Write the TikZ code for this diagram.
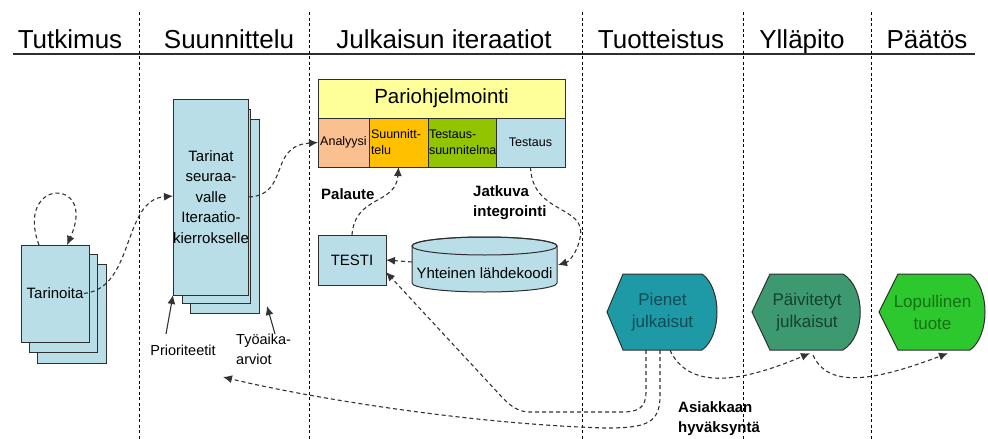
\documentclass[tikz,border=0pt]{standalone}
\usepackage{fontspec}
\setmainfont{Liberation Sans}
\usetikzlibrary{arrows.meta}
\newcommand\fsz[2]{\fontsize{#1pt}{#2pt}\selectfont}
\definecolor{cardblue}{HTML}{B9DEE8}
\definecolor{linec}{HTML}{2E2E2E}
\definecolor{flowc}{HTML}{333333}
\definecolor{pairyellow}{HTML}{FFFF99}
\definecolor{peach}{HTML}{FAC08F}
\definecolor{gold}{HTML}{FFC000}
\definecolor{olive}{HTML}{92C400}
\definecolor{tealrel}{HTML}{1E9AA6}
\definecolor{tealtxt}{HTML}{0E4B55}
\definecolor{seagreen}{HTML}{3D9970}
\definecolor{seatxt}{HTML}{16422A}
\definecolor{brightgreen}{HTML}{2DC82D}
\definecolor{brighttxt}{HTML}{137013}
\begin{document}
\begin{tikzpicture}[x=1pt,y=-1pt,
  title/.style={font=\fsz{26}{30}, inner sep=0pt, anchor=base},
  lane/.style={draw=black, line width=0.8pt, dash pattern=on 3pt off 2.5pt},
  card/.style={draw=linec, fill=cardblue, line width=1pt, inner sep=0pt, outer sep=0pt, anchor=north west},
  cell/.style={draw=linec, line width=1pt, inner sep=0pt, outer sep=0pt, anchor=north west},
  flow/.style={draw=flowc, line width=1.1pt, dash pattern=on 4pt off 3pt, -{Latex[length=9pt,width=8pt]}},
  pointer/.style={draw=flowc, line width=1.1pt, -{Latex[length=9pt,width=8pt]}},
  release/.style={draw=linec, line width=1pt},
  boldlbl/.style={font=\bfseries\fsz{15}{20}, inner sep=0pt, align=left},
  lbl/.style={font=\fsz{14.5}{20}, inner sep=0pt, align=left}]
\useasboundingbox (0,0) rectangle (988,439);

% ---- phase headings and lane separators ----
\node[title] (h1) at (70,48) {Tutkimus};
\node[title] (h2) at (229,48) {Suunnittelu};
\node[title] (h3) at (444,48) {Julkaisun iteraatiot};
\node[title] (h4) at (661,48) {Tuotteistus};
\node[title] (h5) at (802,48) {Ylläpito};
\node[title] (h6) at (927,48) {Päätös};
\draw[linec, line width=1.2pt] (13,54) -- (975,54);
\foreach \x in {139,309,582,743,871}
  \draw[lane] (\x,12) -- (\x,439);

% ---- stories (stack of cards) ----
\node[card, minimum width=69pt, minimum height=99pt] (tar3) at (37,264) {};
\node[card, minimum width=68pt, minimum height=98pt] (tar2) at (29,254) {};
\node[card, minimum width=68pt, minimum height=97pt, font=\fsz{15}{20}] (tar1) at (21,245) {Tarinoita};

% ---- stories for next iteration (stack of cards) ----
\node[card, minimum width=69pt, minimum height=194pt] (sun3) at (190,119) {};
\node[card, minimum width=68pt, minimum height=194pt] (sun2) at (182,109) {};
\node[card, minimum width=69pt, minimum height=196pt, font=\fsz{15}{20.5}, align=center] (sun1) at (173,99)
  {Tarinat\\seuraa-\\valle\\Iteraatio-\\kierrokselle};

\node[lbl, anchor=center] (prio) at (183,350) {Prioriteetit};
\node[lbl, anchor=north west, font=\fsz{14.5}{20}] (tyo) at (236,334) {Työaika-\\arviot};
\draw[pointer] (166,334) -- (sun1.south west);
\draw[pointer] (275,334) -- (267,306);

% ---- pair programming block ----
\node[cell, fill=pairyellow, minimum width=247pt, minimum height=39pt, font=\fsz{20.5}{24}] (pair) at (318,79) {Pariohjelmointi};
\node[cell, fill=peach, minimum width=51pt, minimum height=49pt, font=\fsz{12.5}{16}] (ana) at (318,118) {Analyysi};
\node[cell, fill=gold, minimum width=59pt, minimum height=49pt, font=\fsz{12.5}{16}, align=left, text width=55pt] (suu) at (369,118) {Suunnitt-\\telu};
\node[cell, fill=olive, minimum width=68pt, minimum height=49pt, font=\fsz{12.5}{16}, align=left, text width=66pt] (tsu) at (428,118) {Testaus-\\suunnitelma};
\node[cell, fill=cardblue, minimum width=69pt, minimum height=49pt, font=\fsz{12.5}{16}] (tst) at (496,118) {Testaus};

% ---- test box and shared code base ----
\node[card, minimum width=68pt, minimum height=50pt, font=\fsz{15}{18}] (testi) at (318,235) {TESTI};
\path[fill=cardblue, draw=linec, line width=1pt]
  (412,246) -- (412,283) arc[start angle=180, end angle=360, x radius=72.5pt, y radius=9pt]
  -- (557,246) arc[start angle=0, end angle=180, x radius=72.5pt, y radius=9pt] -- cycle;
\draw[linec, line width=1pt] (484.5,246) ellipse[x radius=72.5pt, y radius=9pt];
\node[font=\fsz{15}{18}, inner sep=0pt] (code) at (484.5,273) {Yhteinen lähdekoodi};
\coordinate (codeW) at (412,262);
\coordinate (codeE) at (558,265);

\node[boldlbl, anchor=west] (palaute) at (321,194) {Palaute};
\node[boldlbl, anchor=north west] (jatkuva) at (473,185) {Jatkuva\\integrointi};

% ---- releases ----
\path[release, fill=tealrel] (607,312) -- (623,274) -- (702,274)
  .. controls (722,288) and (722,336) .. (702,350) -- (623,350) -- cycle;
\path[release, fill=seagreen] (752,312) -- (770,274) -- (843,274)
  .. controls (866,288) and (866,336) .. (843,350) -- (770,350) -- cycle;
\path[release, fill=brightgreen] (879,312) -- (898,274) -- (970,274)
  .. controls (990,288) and (990,336) .. (970,350) -- (898,350) -- cycle;
\node[minimum width=111pt, minimum height=76pt, inner sep=0pt, align=center, text=tealtxt, font=\fsz{17}{22}] (pienet) at (662.5,312) {Pienet\\julkaisut};
\node[minimum width=110pt, minimum height=76pt, inner sep=0pt, align=center, text=seatxt, font=\fsz{17}{22}] (paiv) at (807,312) {Päivitetyt\\julkaisut};
\node[minimum width=107pt, minimum height=76pt, inner sep=0pt, align=center, text=brighttxt, font=\fsz{17}{22}] (lop) at (932.5,312) {Lopullinen\\tuote};

\node[boldlbl, anchor=north west] (asiakas) at (678,401) {Asiakkaan\\hyväksyntä};
\coordinate (prioend) at (223,377);

% ---- flows ----
\draw[flow] ([xshift=18pt]tar1.north west) .. controls (14,178) and (98,176) .. ([xshift=46pt]tar1.north west);
\draw[flow] ([xshift=-5pt]tar1.east) .. controls (135,288) and (122,200) .. ([yshift=1pt]sun1.west);
\draw[flow] (sun1.east) .. controls (290,195) and (268,146) .. (ana.west);
\draw[flow] (testi.north) .. controls (355,195) and (396,205) .. (suu.south);
\draw[flow] (tst.south) .. controls (532,215) and (588,205) .. (580,238)
  .. controls (577,254) and (568,262) .. (codeE);
\draw[flow] (codeW) -- (testi.east);
\draw[flow] ([xshift=-16.5pt]pienet.south) -- (646,392)
  .. controls (646,408) and (638,412) .. (622,412) -- (530,412)
  .. controls (518,412) and (510,406) .. (500,395) -- ([yshift=-12pt]testi.east);
\draw[flow] ([xshift=-2.5pt]pienet.south) -- (660,396)
  .. controls (660,424) and (645,428) .. (605,428)
  .. controls (470,424) and (310,398) .. (prioend);
\draw[flow] ([xshift=7.5pt]pienet.south) .. controls (688,388) and (735,385) .. ([xshift=3pt,yshift=-3pt]paiv.south);
\draw[flow] ([xshift=6pt,yshift=-5pt]paiv.south) .. controls (828,388) and (872,382) .. ([xshift=15.5pt,yshift=-3pt]lop.south);
\end{tikzpicture}
\end{document}
